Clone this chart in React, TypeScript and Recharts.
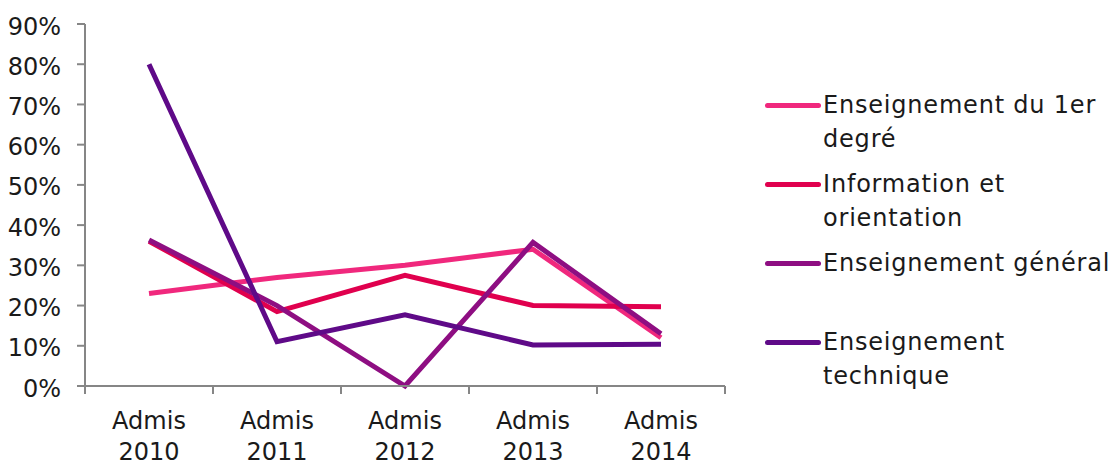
import React from 'react';
import { LineChart, Line, XAxis, YAxis, Legend } from 'recharts';

const categories = ['Admis 2010', 'Admis 2011', 'Admis 2012', 'Admis 2013', 'Admis 2014'];
const premierDegre = [23, 27, 30, 34, 12];
const infoOrientation = [36, 18.5, 27.5, 20, 19.7];
const enseignementGeneral = [36.3, 20, 0, 35.7, 13];
const enseignementTechnique = [80, 11, 17.7, 10.2, 10.4];
const yTicks = [0, 10, 20, 30, 40, 50, 60, 70, 80, 90];

const seriesNames = ['premier', 'info', 'general', 'technique'];
const seriesLabels = [
  ['Enseignement du 1er', 'degré'],
  ['Information et', 'orientation'],
  ['Enseignement général'],
  ['Enseignement', 'technique'],
];
const seriesColors = ['#F0287D', '#E0004E', '#8E0E82', '#5F0A88'];

const data = categories.map((c, i) => ({
  name: c,
  premier: premierDegre[i],
  info: infoOrientation[i],
  general: enseignementGeneral[i],
  technique: enseignementTechnique[i],
}));

const FONT = '"DejaVu Sans", sans-serif';
const FS = 24;
const AXIS = '#868686';
const legendTops = [105, 184, 263, 342];

const XTick = (props: any) => {
  const { x, y, payload, width, index } = props;
  const half = payload && payload.offset ? payload.offset : width / categories.length / 2;
  const parts = String(payload.value).split(' ');
  const ty = y - 10;
  return (
    <g>
      <line x1={x - half} x2={x - half} y1={ty} y2={ty + 8} stroke={AXIS} strokeWidth={2} />
      {index === categories.length - 1 && (
        <line x1={x + half} x2={x + half} y1={ty} y2={ty + 8} stroke={AXIS} strokeWidth={2} />
      )}
      <text x={x} y={y + 33} textAnchor="middle" fontSize={FS} fill="#1a1a1a" fontFamily={FONT}>
        {parts[0]}
      </text>
      <text x={x} y={y + 64} textAnchor="middle" fontSize={FS} fill="#1a1a1a" fontFamily={FONT}>
        {parts[1]}
      </text>
    </g>
  );
};

const LegendContent = () => (
  <div style={{ position: 'relative', width: 360, height: 466 }}>
    {seriesNames.map((n, i) => (
      <div key={n} style={{ position: 'absolute', left: 0, top: legendTops[i] - 17 }}>
        <div
          style={{
            position: 'absolute',
            left: 0,
            top: 15,
            width: 56,
            height: 5,
            borderRadius: 3,
            background: seriesColors[i],
          }}
        />
        <div
          style={{
            position: 'absolute',
            left: 58,
            top: 0,
            whiteSpace: 'nowrap',
            fontFamily: FONT,
            fontSize: FS,
            letterSpacing: 0.8,
            lineHeight: '34px',
            color: '#1a1a1a',
          }}
        >
          {seriesLabels[i].map((l, j) => (
            <div key={j}>{l}</div>
          ))}
        </div>
      </div>
    ))}
  </div>
);

export default function App() {
  return (
    <div style={{ position: 'absolute', left: 0, top: 0, width: 1119, height: 466, background: '#fff' }}>
      <LineChart
        width={1119}
        height={466}
        data={data}
        margin={{ top: 24, right: 394, bottom: 0, left: 0 }}
      >
        <XAxis
          dataKey="name"
          scale="band"
          height={80}
          stroke={AXIS}
          strokeWidth={2}
          tickSize={8}
          tickLine={false}
          tick={<XTick />}
          interval={0}
        />
        <YAxis
          width={85}
          domain={[0, 90]}
          ticks={yTicks}
          stroke={AXIS}
          strokeWidth={2}
          tickSize={8}
          tickLine={{ stroke: AXIS, strokeWidth: 2 }}
          tickFormatter={(v: number) => `${v}%`}
          tick={{ fontSize: FS, fill: '#1a1a1a', fontFamily: FONT, dx: -14, dy: 2 }}
        />
        {seriesNames.map((n, i) => (
          <Line
            key={n}
            type="linear"
            dataKey={n}
            name={seriesLabels[i].join(' ')}
            stroke={seriesColors[i]}
            strokeWidth={5}
            dot={false}
            activeDot={false}
            isAnimationActive={false}
          />
        ))}
        <Legend
          layout="vertical"
          align="center"
          verticalAlign="middle"
          content={<LegendContent />}
          wrapperStyle={{ left: 765, top: 0, width: 360, height: 466 }}
        />
      </LineChart>
    </div>
  );
}
